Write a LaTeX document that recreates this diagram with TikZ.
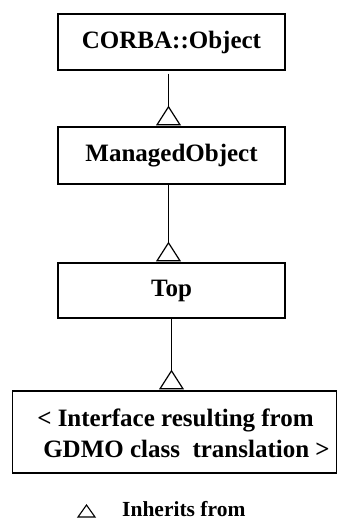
\documentclass[tikz,border=0pt]{standalone}
\usepackage{fontspec}
\setmainfont{Liberation Serif}
\begin{document}
\begin{tikzpicture}[x=1pt,y=-1pt,
  classbox/.style={draw,line width=1.4pt,inner sep=0pt,
    font=\fontsize{25}{31}\selectfont\bfseries},
  link/.style={line width=1.2pt},
  tri/.style={line width=1.2pt,line join=miter}]
  \useasboundingbox (0,0) rectangle (338,522);

  % class hierarchy
  \node[classbox,minimum width=227pt,minimum height=56pt] (corba) at (171.5,42) {CORBA::Object};
  \node[classbox,minimum width=227pt,minimum height=57pt] (mo) at (171.5,155.5) {ManagedObject};
  \node[classbox,minimum width=227pt,minimum height=55pt] (top) at (171.5,290.5) {Top};
  \node[classbox,minimum width=324pt,minimum height=82pt] (gdmo) at (174.5,432) {};
  \node[font=\fontsize{25}{31}\selectfont\bfseries,align=left,inner sep=0pt] (gdmotext) at (183.5,433)
    {< Interface resulting from\\\hspace{6pt}GDMO class\ \ translation >};

  % inheritance links: an open triangle rests on the subclass, apex towards the parent
  \coordinate (b1) at ([xshift=-3pt,yshift=1.5pt]mo.north);
  \coordinate (b2) at ([xshift=-3pt,yshift=1.5pt]top.north);
  \coordinate (b3) at ([yshift=1.5pt]top.south |- gdmo.north);
  \foreach \b/\p/\gap in {b1/corba/3pt,b2/mo/0pt,b3/top/0pt}{
    \coordinate (\b apex) at ([yshift=18pt]\b);
    \draw[link] ([yshift=-\gap]\b apex |- \p.south) -- (\b apex);
    \draw[tri] (\b apex) -- ([xshift=11.5pt]\b) -- ([xshift=-11.5pt]\b) -- cycle;
  }

  % legend
  \draw[line width=1.1pt] (78,517) -- (95,517) -- (86.5,505) -- cycle;
  \node[font=\fontsize{21.5}{26}\selectfont\bfseries,anchor=base west,inner sep=0pt] (legend) at (122,516) {Inherits from};
\end{tikzpicture}
\end{document}
